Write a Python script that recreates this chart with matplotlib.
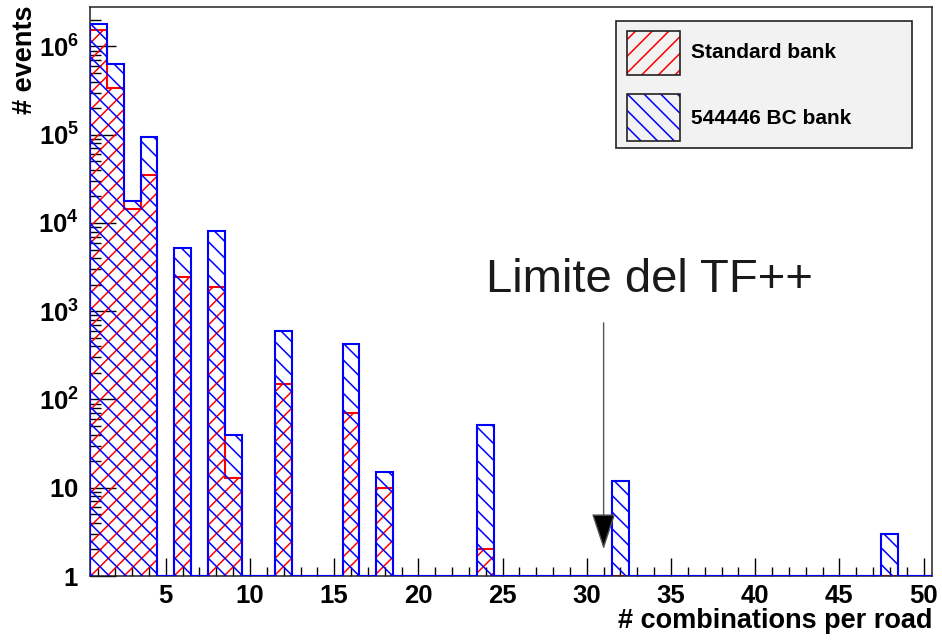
import numpy as np
import matplotlib
matplotlib.use("Agg")
import matplotlib.pyplot as plt
from matplotlib.patches import Rectangle
from matplotlib.ticker import LogLocator, MultipleLocator, FixedLocator, FuncFormatter, NullFormatter

plt.rcParams['font.family'] = ['Liberation Sans', 'DejaVu Sans']
plt.rcParams['mathtext.fontset'] = 'custom'
plt.rcParams['mathtext.rm'] = 'Liberation Sans'
plt.rcParams['mathtext.bf'] = 'Liberation Sans:bold'
plt.rcParams['hatch.linewidth'] = 1.1

# combinations per road (bin centres), only non-empty bins
bins = [1, 2, 3, 4, 6, 8, 9, 12, 16, 18, 24, 32, 48]
standard_bank = [1.54e6, 3.4e5, 1.45e4, 3.46e4, 2450, 1900, 13, 150, 71, 10, 2, 0, 0]
bc_bank = [1.8e6, 6.3e5, 1.77e4, 9.5e4, 5200, 8200, 40, 600, 430, 15, 51, 12, 3]
labels = ["Standard bank", "544446 BC bank"]
x_ticks = [5, 10, 15, 20, 25, 30, 35, 40, 45, 50]
y_ticks = [1, 1e1, 1e2, 1e3, 1e4, 1e5, 1e6]
tf_limit = 31

n_bins = 50
edges = np.arange(0.5, n_bins + 1, 1.0)
ymin, ymax = 1, 2.8e6

def fill_hist(values):
    h = np.zeros(n_bins)
    h[np.array(bins) - 1] = values
    return np.maximum(h, ymin)

h_std = fill_hist(standard_bank)
h_bc = fill_hist(bc_bank)

fig = plt.figure(figsize=(9.42, 6.4), dpi=100)
ax = fig.add_axes([90 / 942, 64 / 640, 842 / 942, 569 / 640])
ax.set_yscale('log')

red = '#ff0000'
blue = '#0000ff'
ax.stairs(h_std, edges, baseline=ymin, fill=True, facecolor='none',
          edgecolor=red, hatch='//', linewidth=1.5, zorder=2)
ax.stairs(h_bc, edges, baseline=ymin, fill=True, facecolor='none',
          edgecolor=blue, hatch='\\\\', linewidth=1.5, zorder=3)

ax.set_xlim(0.5, 50.5)
ax.set_ylim(ymin, ymax)

for s in ax.spines.values():
    s.set_linewidth(1.1)
    s.set_color('#222222')

ax.xaxis.set_major_locator(FixedLocator(x_ticks))
ax.xaxis.set_minor_locator(MultipleLocator(1))
ax.yaxis.set_major_locator(FixedLocator(y_ticks))
ax.yaxis.set_minor_locator(LogLocator(base=10, subs=np.arange(2, 10)))
ax.yaxis.set_minor_formatter(NullFormatter())

def log_label(v, pos):
    e = int(round(np.log10(v)))
    if e == 0:
        return r'$\mathbf{1}$'
    if e == 1:
        return r'$\mathbf{10}$'
    return r'$\mathbf{10^{%d}}$' % e

ax.yaxis.set_major_formatter(FuncFormatter(log_label))
ax.tick_params(axis='y', which='major', direction='in', length=19, width=1, pad=8, labelsize=18.5)
ax.tick_params(axis='y', which='minor', direction='in', length=8, width=1)
ax.tick_params(axis='x', which='major', direction='in', length=13, width=1, pad=6, labelsize=18.5)
ax.tick_params(axis='x', which='minor', direction='in', length=6.5, width=1)
for t in ax.get_xticklabels():
    t.set_fontweight('bold')

fig.text(25 / 942, 1 - 5 / 640, "# events", rotation=90, ha='center', va='top',
         fontsize=19.5, fontweight='bold')
fig.text(932 / 942, 1 - 628 / 640, "# combinations per road", ha='right', va='baseline',
         fontsize=19.5, fontweight='bold')

# TF++ limit marker
ax.text(0.470, 0.499, "Limite del TF++", transform=ax.transAxes, ha='left', va='baseline',
        fontsize=34, color='#1a1a1a')
ax.annotate("", xy=(tf_limit, 0.047), xytext=(tf_limit, 0.445),
            xycoords=('data', 'axes fraction'), textcoords=('data', 'axes fraction'),
            arrowprops=dict(arrowstyle='-|>,head_length=2.3,head_width=0.76',
                            mutation_scale=10, shrinkA=0, shrinkB=0,
                            ec='#555555', fc='black', lw=1.0))

# legend box
def px_box(x0, y0, x1, y1):
    return (x0 / 942, 1 - y1 / 640), (x1 - x0) / 942, (y1 - y0) / 640

xy, w, h = px_box(616, 21, 912, 148)
fig.patches.append(Rectangle(xy, w, h, transform=fig.transFigure, facecolor='#f2f2f2',
                             edgecolor='#222222', linewidth=1.2, zorder=5))
swatches = [((627, 31, 680, 75), red, '//', 53), ((627, 94, 680, 141), blue, '\\\\', 118)]
for (box, col, hat, ty), lab in zip(swatches, labels):
    xy, w, h = px_box(*box)
    fig.patches.append(Rectangle(xy, w, h, transform=fig.transFigure, facecolor='none',
                                 edgecolor=col, hatch=hat, linewidth=0, zorder=6))
    fig.patches.append(Rectangle(xy, w, h, transform=fig.transFigure, facecolor='none',
                                 edgecolor='#222222', linewidth=1.2, zorder=7))
    fig.text(691 / 942, 1 - ty / 640, lab, ha='left', va='center', fontsize=15,
             fontweight='bold', zorder=8)

fig.savefig("out.png", dpi=100)
